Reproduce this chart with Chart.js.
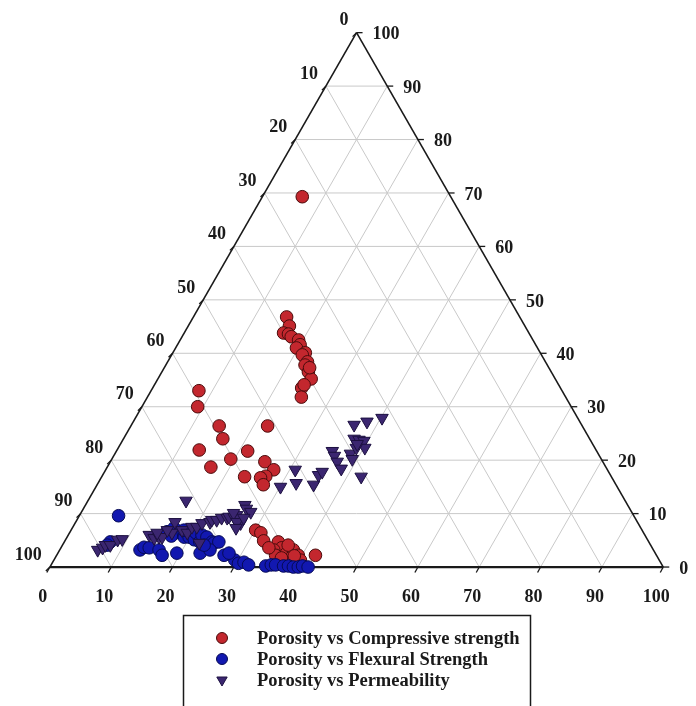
<!DOCTYPE html>
<html>
<head>
<meta charset="utf-8">
<script src="https://cdn.jsdelivr.net/npm/chart.js@4.4.0/dist/chart.umd.min.js"></script>
<style>
html,body{margin:0;padding:0;background:#ffffff;}
canvas{display:block;}
</style>
</head>
<body>
<canvas id="c" width="696" height="706"></canvas>
<script>
// ----- Data (ternary percentages: bottom-axis component, right-axis component) -----
const tickValues = [0,10,20,30,40,50,60,70,80,90,100];
const gridSteps = [10,20,30,40,50,60,70,80,90];
const seriesNames = ['Porosity vs Compressive strength','Porosity vs Flexural Strength','Porosity vs Permeability'];

const compBottom = [6.5,15.2,16.5,16.2,17.1,17.8,19.3,20.0,19.7,21.6,21.3,22.8,22.7,23.9,25.0,24.3,25.1,23.7,24.4,
  7.8,9.1,14.4,16.2,22.3,13.4,16.9,19.4,21.4,25.2,27.4,26.7,26.0,27.1,23.3,
  30.1,31.2,32.4,34.9,36.0,34.9,35.7,37.3,38.1,39.4,38.4,40.2,36.9,42.2,33.9,36.8,38.8];
const compRight = [69.3,46.8,45.1,43.8,43.6,43.1,42.5,41.6,41.0,40.1,39.7,38.4,37.8,36.5,35.2,33.5,31.8,37.3,34.1,
  33.0,30.0,26.4,24.0,26.4,21.9,18.7,20.2,21.7,19.7,18.2,17.0,16.7,15.4,16.9,
  6.9,6.4,4.9,4.7,3.6,3.2,2.2,2.6,3.2,2.2,1.7,1.3,1.7,2.2,3.6,4.1,2.1];

const flexBottom = [6.4,7.5,7.3,13.1,13.5,14.4,16.2,17.2,19.4,15.8,16.6,17.9,19.1,19.9,21.0,20.6,22.1,21.8,22.8,24.1,24.5,25.2,27.3,
  23.2,24.5,29.5,30.4,31.2,32.2,35.1,35.9,36.6,38.0,38.8,39.7,40.5,41.1,42.1,27.9,18.4,23.1,16.9];
const flexRight = [9.6,4.7,4.1,3.2,3.7,3.6,3.2,2.2,2.6,6.6,7.3,6.4,5.6,5.6,5.1,6.4,4.7,6.0,5.6,4.7,4.5,4.7,2.2,
  2.6,3.2,1.3,0.7,0.9,0.4,0.2,0.4,0.4,0.2,0.2,0,0,0.2,0,2.6,6.9,4.1,5.8];

const permBottom = [6.2,6.8,7.0,7.8,8.5,9.2,16.0,
  13.2,14.3,15.0,15.5,16.7,16.2,18.1,19.2,19.4,20.2,20.7,21.9,22.0,22.8,23.4,24.3,24.5,25.3,25.6,26.0,26.6,27.6,24.9,27.0,26.3,27.0,26.7,22.1,14.3,15.7,
  30.1,30.9,32.3,35.3,35.2,35.5,35.2,36.0,37.0,38.3,38.4,39.2,36.3,38.1,40.2,37.6,38.5,39.4,40.2,38.8,42.3,38.6];
const permRight = [3.2,3.6,4.1,4.1,5.1,5.2,12.4,
  6.0,5.4,5.6,5.6,6.4,8.4,6.9,6.4,7.5,7.5,8.2,8.4,8.8,8.8,9.2,9.2,9.4,9.4,9.7,11.6,10.9,10.3,10.1,8.2,8.4,9.2,7.3,4.5,6.4,6.9,
  15.0,18.2,15.7,15.4,17.2,17.8,21.7,20.8,19.7,18.4,21.2,20.2,26.6,27.2,27.9,24.0,23.8,23.6,22.3,22.3,16.9,23.0];

// ----- ternary -> cartesian (side = 100) -----
const H = Math.sqrt(3) / 2;
function toXY(b, r) { return { x: b + r / 2, y: r * H }; }
function series(bs, rs) { return bs.map((b, i) => toXY(b, rs[i])); }

const TICK_FONT = 'bold 18px "Liberation Serif", "Times New Roman", serif';
const LEGEND_FONT = 'bold 18.5px "Liberation Serif", "Times New Roman", serif';
const INK = '#1a1a1a';

const ternaryFrame = {
  id: 'ternaryFrame',
  beforeDatasetsDraw(chart) {
    const ctx = chart.ctx, xs = chart.scales.x, ys = chart.scales.y;
    const P = (b, r) => { const p = toXY(b, r); return [xs.getPixelForValue(p.x), ys.getPixelForValue(p.y)]; };
    const seg = (a, c) => { ctx.beginPath(); ctx.moveTo(a[0], a[1]); ctx.lineTo(c[0], c[1]); ctx.stroke(); };
    ctx.save();
    // grid
    ctx.strokeStyle = '#c9c9c9';
    ctx.lineWidth = 1;
    gridSteps.forEach(k => {
      seg(P(0, k), P(100 - k, k));
      seg(P(k, 0), P(k, 100 - k));
      seg(P(100 - k, 0), P(0, 100 - k));
    });
    // edges
    ctx.strokeStyle = INK;
    ctx.lineWidth = 1.6;
    seg(P(0, 100), P(0, 0));
    seg(P(0, 100), P(100, 0));
    ctx.lineWidth = 2.2;
    seg(P(0, 0), P(100, 0));
    // ticks and labels
    ctx.lineWidth = 1.3;
    ctx.fillStyle = INK;
    ctx.font = TICK_FONT;
    tickValues.forEach(k => {
      // bottom axis
      let p = P(k, 0);
      seg(p, [p[0] - 3, p[1] + 5.5]);
      ctx.textAlign = 'center'; ctx.textBaseline = 'middle';
      ctx.fillText(String(k), p[0] - 7, p[1] + 30);
      // right axis
      p = P(100 - k, k);
      seg(p, [p[0] + 6, p[1]]);
      ctx.textAlign = 'left';
      ctx.fillText(String(k), p[0] + 16, p[1] + 2);
      // left axis
      p = P(0, 100 - k);
      seg(p, [p[0] - 4, p[1] + 4]);
      ctx.textAlign = 'right';
      ctx.fillText(String(k), p[0] - 8, p[1] - 12);
    });
    ctx.restore();
  },
  afterDraw(chart) {
    const ctx = chart.ctx;
    ctx.save();
    ctx.strokeStyle = INK;
    ctx.lineWidth = 1.5;
    ctx.strokeRect(183.5, 615.5, 347, 100);
    ctx.font = LEGEND_FONT;
    ctx.textAlign = 'left';
    ctx.textBaseline = 'middle';
    chart.data.datasets.forEach((ds, i) => {
      const yy = 638 + i * 21;
      ctx.fillStyle = ds.backgroundColor;
      ctx.strokeStyle = ds.borderColor;
      ctx.lineWidth = 1;
      Chart.helpers.drawPoint(ctx, { pointStyle: ds.pointStyle, rotation: ds.rotation || 0, radius: ds.pointStyle === 'triangle' ? 6 : 5.5, borderWidth: 1 }, 222, yy);
      ctx.fillStyle = INK;
      ctx.fillText(ds.label, 257, yy + 1);
    });
    ctx.restore();
  }
};

new Chart(document.getElementById('c'), {
  type: 'scatter',
  data: {
    datasets: [
      { label: seriesNames[0], data: series(compBottom, compRight), pointStyle: 'circle', pointRadius: 6.3,
        backgroundColor: '#c3272e', borderColor: '#4a0c0c', borderWidth: 1, order: 3 },
      { label: seriesNames[1], data: series(flexBottom, flexRight), pointStyle: 'circle', pointRadius: 6.3,
        backgroundColor: '#1218b0', borderColor: '#060a55', borderWidth: 1, order: 2 },
      { label: seriesNames[2], data: series(permBottom, permRight), pointStyle: 'triangle', rotation: 180, pointRotation: 180, pointRadius: 7.2,
        backgroundColor: '#3b2670', borderColor: '#1c1040', borderWidth: 1, order: 1 }
    ]
  },
  options: {
    responsive: false,
    animation: false,
    devicePixelRatio: 1,
    layout: { padding: { left: 25.32, right: 4.3, top: 11.7, bottom: 89.6 } },
    scales: {
      x: { type: 'linear', min: -4, max: 104, display: false },
      y: { type: 'linear', min: -8, max: 90, display: false }
    },
    plugins: { legend: { display: false }, tooltip: { enabled: false } }
  },
  plugins: [ternaryFrame]
});
</script>
</body>
</html>
